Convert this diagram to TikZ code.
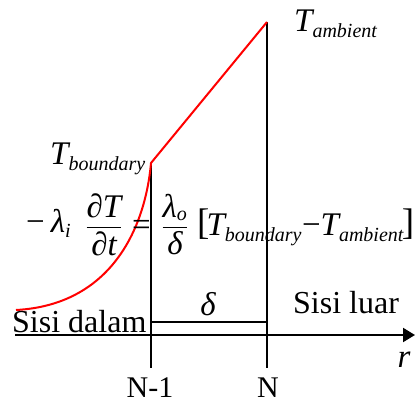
\documentclass[tikz,border=0pt]{standalone}
\usepackage{amsmath}
\usepackage{fontspec}
\setmainfont{Liberation Serif}
\usetikzlibrary{arrows.meta}
\DeclareMathSizes{33}{33}{20}{15}
\newcommand\mi[1]{\text{\itshape #1}}
\newcommand\brk[1]{\text{\raisebox{1.5pt}{\fontsize{37}{37}\selectfont #1}}}
\newcommand\nodl{\nulldelimiterspace=0pt\relax}
\begin{document}
\begin{tikzpicture}[x=1pt,y=-1pt,
  blk/.style={line width=2pt,black},
  redl/.style={line width=2pt,red},
  lbl/.style={inner sep=0pt,font=\fontsize{32}{34}\selectfont},
  nlbl/.style={inner sep=0pt,font=\fontsize{30}{32}\selectfont},
  mlbl/.style={inner sep=0pt,font=\fontsize{33}{36}\selectfont\nodl}]
\useasboundingbox (0,0) rectangle (415,403);
% coordinates
\coordinate (b) at (151,163);
\coordinate (a) at (267,22);
\coordinate (bb) at (151,368);
\coordinate (ab) at (267,368);
\coordinate (c0) at (16,310);
\coordinate (x0) at (15,335);
\coordinate (x1) at (415,335);
\coordinate (d0) at (151,322);
\coordinate (d1) at (267,322);
% black lines
\draw[blk] (b) -- (bb);
\draw[blk] (a) -- (ab);
\draw[blk] (d0) -- (d1);
\draw[blk,-{Stealth[length=12pt,width=14pt,inset=0pt]}] (x0) -- (x1);
% red profile
\draw[redl] (c0) .. controls (110,305) and (145,230) .. (b) -- (a);
% labels
\node[mlbl,anchor=base west] (tamb) at (294,32) {$\mi{T}_{\mi{ambient}}$};
\node[mlbl,anchor=base west] (tbnd) at (50,165) {$\mi{T}_{\mi{boundary}}$};
% equation
\node[mlbl,anchor=base west] (eqa) at (26,233) {$\text{−}\hspace{6pt}\mi{λ}_{\mi{i}}$};
\node[mlbl,anchor=base] (eqb) at (104,234) {$\dfrac{\mi{∂T}}{\mi{∂t}}$};
\node[mlbl,anchor=base] (eqc) at (141.5,236) {=};
\node[mlbl,anchor=base] (eqd) at (175,234) {$\dfrac{\mi{λ}_{\mi{o}}}{\mi{δ}}$};
\node[mlbl,anchor=base west] (eqe) at (197,236) {$\brk{[}\kern-3pt\mi{T}_{\mi{boundary}}\text{−}\mi{T}_{\mi{ambient}}\kern-2pt\brk{]}$};
\node[mlbl] (del) at (208,304) {\itshape δ};
\node[lbl,anchor=base west] (sd) at (12,333) {Sisi dalam};
\node[lbl,anchor=base west] (sl) at (293,313) {Sisi luar};
\node[mlbl,anchor=base] (r) at (404,367) {\itshape r};
\node[nlbl,anchor=base] (n1) at (150,397) {N-1};
\node[nlbl,anchor=base] (n) at (268,397) {N};
\end{tikzpicture}
\end{document}
